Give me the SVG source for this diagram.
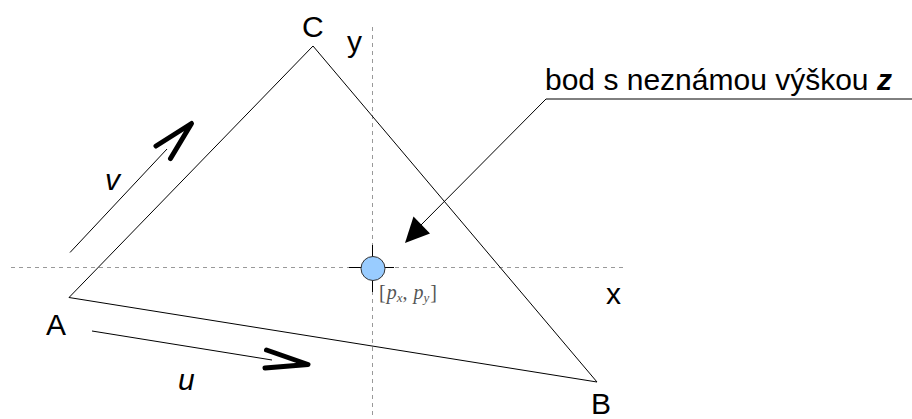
<svg xmlns="http://www.w3.org/2000/svg" width="912" height="419" viewBox="0 0 912 419">
<style>
.lbl{font-family:"Liberation Sans",Arial,sans-serif;font-size:30px;fill:#000}
.it{font-style:italic}
.axis{stroke:#999;stroke-width:1;stroke-dasharray:4 4;fill:none}
.thin{stroke:#000;stroke-width:1;fill:none}
.chev{stroke:#000;stroke-width:5;fill:none;stroke-linecap:round;stroke-linejoin:round}
.coord{font-family:"Liberation Serif","Times New Roman",serif;font-size:20px;fill:#555}
.sub{font-style:italic;font-size:13px}
</style>
<rect width="912" height="419" fill="#fff"/>
<g id="axes">
<line class="axis" x1="11" y1="267.5" x2="626" y2="267.5"/>
<line class="axis" x1="372.5" y1="27" x2="372.5" y2="419"/>
<text class="lbl" x="606" y="304">x</text>
<text class="lbl" x="347" y="52">y</text>
</g>
<g id="triangle">
<polygon class="thin" points="313,46 597,382 69,297.5"/>
<text class="lbl" x="302" y="37">C</text>
<text class="lbl" x="46" y="335">A</text>
<text class="lbl" x="591" y="414">B</text>
</g>
<g id="vector-v">
<line class="thin" x1="70" y1="252.5" x2="167" y2="149"/>
<polyline class="chev" points="156,146 191.5,123.5 170.5,158.5"/>
<text class="lbl it" x="105" y="190">v</text>
</g>
<g id="vector-u">
<line class="thin" x1="92" y1="331" x2="272" y2="360"/>
<polyline class="chev" points="266.5,350 308,364.5 265,368"/>
<text class="lbl it" x="178" y="390">u</text>
</g>
<g id="point">
<line class="thin" x1="349" y1="267.5" x2="394" y2="267.5"/>
<line class="thin" x1="372.5" y1="245" x2="372.5" y2="292"/>
<circle cx="373" cy="268.5" r="12" fill="#99ccff" stroke="#333" stroke-width="1"/>
<text class="coord" x="379" y="299">[<tspan font-style="italic" dx="1">p</tspan><tspan class="sub" dy="3">x</tspan><tspan dy="-3">, </tspan><tspan font-style="italic" dx="1">p</tspan><tspan class="sub" dy="3">y</tspan><tspan dy="-3" dx="1">]</tspan></text>
</g>
<g id="connectors">
<polyline class="thin" points="912,99 546,99 420,226"/>
<polygon points="405,243 413.5,216.5 430,233.5" fill="#000"/>
</g>
<g id="callout">
<text class="lbl" x="545" y="90">bod s neznámou výškou <tspan font-weight="bold" font-style="italic">z</tspan></text>
</g>
</svg>
